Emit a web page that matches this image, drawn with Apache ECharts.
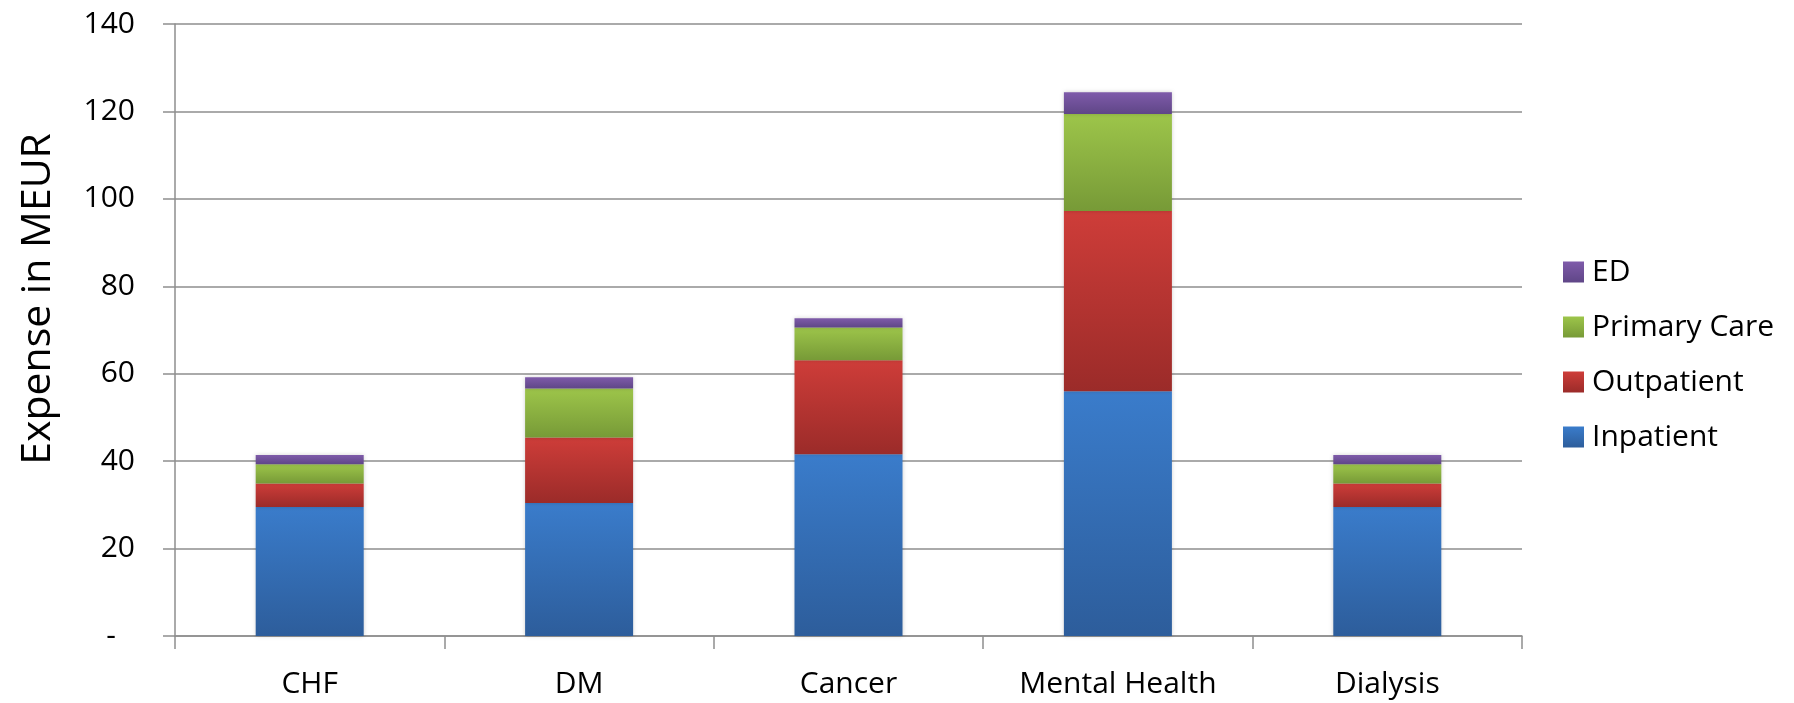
<!DOCTYPE html>
<html>
<head>
<meta charset="utf-8">
<script src="https://cdn.jsdelivr.net/npm/echarts@6/dist/echarts.min.js"></script>
<style>
  html, body { margin: 0; padding: 0; background: #ffffff; }
  #chart { width: 1794px; height: 703px; }
</style>
</head>
<body>
<div id="chart"></div>
<script>
// Expense by condition and care setting (MEUR)
const categories = ['CHF', 'DM', 'Cancer', 'Mental Health', 'Dialysis'];
const inpatient   = [29.5, 30.4, 41.6, 56.0, 29.5];
const outpatient  = [5.4, 15.0, 21.5, 41.2, 5.4];
const primaryCare = [4.4, 11.2, 7.5, 22.2, 4.4];
const ed          = [2.1, 2.6, 2.1, 5.0, 2.1];
const legendOrder = ['ED', 'Primary Care', 'Outpatient', 'Inpatient'];

const FONT = 'Open Sans';
const GRID_COLOR = '#8e8e8e';

function grad(top, bottom) {
  return new echarts.graphic.LinearGradient(0, 0, 0, 1, [
    { offset: 0, color: top },
    { offset: 1, color: bottom }
  ]);
}

function barSeries(name, data, top, bottom) {
  return {
    name: name,
    type: 'bar',
    stack: 'total',
    barWidth: 108,
    data: data,
    itemStyle: {
      color: grad(top, bottom),
      shadowBlur: 4,
      shadowColor: 'rgba(0,0,0,0.18)'
    },
    emphasis: { disabled: true }
  };
}

const chart = echarts.init(document.getElementById('chart'), null, { renderer: 'canvas' });
chart.setOption({
  animation: false,
  backgroundColor: '#ffffff',
  textStyle: { fontFamily: FONT },
  grid: { left: 175, right: 272, top: 24, bottom: 67, containLabel: false, outerBoundsMode: 'none' },
  legend: {
    orient: 'vertical',
    left: 1558,
    top: 252,
    data: legendOrder,
    icon: 'rect',
    itemWidth: 21,
    itemHeight: 21,
    itemGap: 25,
    textStyle: { fontFamily: FONT, fontSize: 30, color: '#000000', padding: [0, 0, 0, 3] },
    selectedMode: false
  },
  xAxis: {
    type: 'category',
    data: categories,
    boundaryGap: true,
    axisLine: { show: true, lineStyle: { color: GRID_COLOR, width: 1.5 } },
    axisTick: { show: true, length: 13, interval: 0, alignWithLabel: false, lineStyle: { color: GRID_COLOR, width: 1.5 } },
    axisLabel: { interval: 0, margin: 33, fontFamily: FONT, fontSize: 30, color: '#000000' },
    splitLine: { show: false }
  },
  yAxis: {
    type: 'value',
    min: 0,
    max: 140,
    interval: 20,
    name: 'Expense in MEUR',
    nameLocation: 'middle',
    nameRotate: 90,
    nameGap: 116,
    nameTextStyle: { fontFamily: FONT, fontSize: 41, color: '#000000', padding: [0, 0, 0, 62] },
    axisLine: { show: true, lineStyle: { color: GRID_COLOR, width: 1.5 } },
    axisTick: { show: true, length: 12, lineStyle: { color: GRID_COLOR, width: 1.5 } },
    axisLabel: {
      margin: 40,
      fontFamily: FONT,
      fontSize: 30,
      color: '#000000',
      formatter: function (v) { return v === 0 ? '{dash|-}' : String(v); },
      rich: { dash: { fontFamily: FONT, fontSize: 30, color: '#000000', padding: [0, 19, 0, 0] } }
    },
    splitLine: { show: true, lineStyle: { color: GRID_COLOR, width: 1.5 } }
  },
  series: [
    barSeries('Inpatient', inpatient, '#3a7ccb', '#2d5d9b'),
    barSeries('Outpatient', outpatient, '#ce3d39', '#9b2b29'),
    barSeries('Primary Care', primaryCare, '#9dc54a', '#779a37'),
    barSeries('ED', ed, '#7f5baa', '#5f4687')
  ]
});
</script>
</body>
</html>
